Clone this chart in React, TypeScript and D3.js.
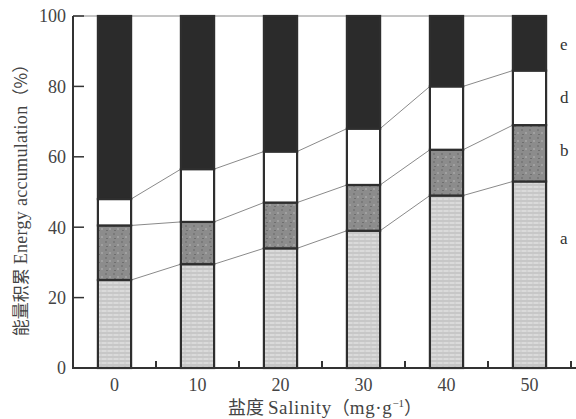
import React from 'react';
import * as d3 from 'd3';

const salinity = ['0', '10', '20', '30', '40', '50'];
// segment shares (%), bottom to top
const partA = [25, 29.5, 34, 39, 49, 53];
const partB = [15.5, 12, 13, 13, 13, 16];
const partD = [7.5, 15, 14.5, 16, 18, 15.5];
const partE = partA.map((v, i) => 100 - v - partB[i] - partD[i]);
const yTicks = [0, 20, 40, 60, 80, 100];
const segNames = ['a', 'b', 'd', 'e'];
const segLabelAt = [37, 62, 77, 92];

const W = 576;
const H = 419;
const serif = "'Liberation Serif', 'DejaVu Serif', serif";
const cjk = "'Noto Sans CJK SC', sans-serif";

export default function App() {
  const x = d3.scaleBand().domain(salinity).range([73, 571]).paddingInner(0.6).paddingOuter(0.3);
  const y = d3.scaleLinear().domain([0, 100]).range([368, 16]);

  const rows = salinity.map((s, i) => ({ s, a: partA[i], b: partB[i], d: partD[i], e: partE[i] }));
  const stacked = d3.stack<any>().keys(['a', 'b', 'd', 'e'])(rows);
  const fills = ['url(#patA)', 'url(#patB)', '#ffffff', '#2b2b2b'];

  const bw = x.bandwidth();
  const step = x.step();
  const minor = salinity.map(s => (x(s) as number) + bw / 2 + step / 2);

  const sf = { fontFamily: serif };
  const cf = { fontFamily: cjk };

  return (
    <div style={{ position: 'absolute', left: 0, top: 0 }}>
      <svg width={W} height={H} style={{ display: 'block', background: '#fff' }}>
        <defs>
          <pattern id="patA" width="6" height="4" patternUnits="userSpaceOnUse">
            <rect width="6" height="4" fill="#d2d2d2" />
            <line x1="0" y1="1" x2="6" y2="1" stroke="#bcbcbc" strokeWidth="1" />
            <line x1="0" y1="3" x2="4" y2="3" stroke="#e2e2e2" strokeWidth="1" />
          </pattern>
          <pattern id="patB" width="8" height="8" patternUnits="userSpaceOnUse">
            <rect width="8" height="8" fill="#8c8c8c" />
            <rect x="1" y="1" width="2" height="2" fill="#7a7a7a" />
            <rect x="5" y="4" width="2" height="2" fill="#a0a0a0" />
            <rect x="2" y="6" width="2" height="1" fill="#6f6f6f" />
          </pattern>
        </defs>

        {/* connector lines between segment tops */}
        {stacked.map((layer, li) =>
          layer.slice(0, -1).map((d, i) => (
            <line key={`c${li}-${i}`}
              x1={(x(salinity[i]) as number) + bw} y1={y(d[1])}
              x2={x(salinity[i + 1]) as number} y2={y(layer[i + 1][1])}
              stroke="#8a8a8a" strokeWidth={1} />
          ))
        )}
        <line x1={73} y1={y(100)} x2={x(salinity[0]) as number} y2={y(100)} stroke="#8a8a8a" strokeWidth={1} />

        {/* stacked bars */}
        {stacked.map((layer, li) =>
          layer.map((d, i) => (
            <rect key={`r${li}-${i}`} x={x(salinity[i])} y={y(d[1])} width={bw}
              height={y(d[0]) - y(d[1])} fill={fills[li]} stroke="#2e2e2e" strokeWidth={2.2} />
          ))
        )}

        {/* segment letters */}
        {segNames.map((n, i) => (
          <text key={n} x={(x(salinity[5]) as number) + bw + 14} y={y(segLabelAt[i])} dy="0.35em"
            style={sf} fontSize={17} fill="#333">{n}</text>
        ))}

        {/* y axis */}
        <line x1={73} y1={y(0)} x2={73} y2={y(100)} stroke="#333" strokeWidth={2} />
        {yTicks.map(t => (
          <g key={t}>
            <line x1={73} x2={84} y1={y(t)} y2={y(t)} stroke="#333" strokeWidth={1.5} />
            <text x={66} y={y(t)} dy="0.35em" textAnchor="end" style={sf} fontSize={18} fill="#444">{t}</text>
          </g>
        ))}

        {/* x axis */}
        <line x1={72} y1={y(0)} x2={W} y2={y(0)} stroke="#333" strokeWidth={2} />
        {minor.map((m, i) => (
          <line key={i} x1={m} x2={m} y1={y(0)} y2={y(0) - 7} stroke="#333" strokeWidth={2} />
        ))}
        {salinity.map(s => (
          <text key={s} x={(x(s) as number) + bw / 2} y={385} dy="0.35em" textAnchor="middle"
            style={sf} fontSize={18} fill="#444">{s}</text>
        ))}

        <text x={325} y={407} dy="0.35em" textAnchor="middle" fontSize={19} fill="#444" style={sf}>
          <tspan style={cf} fontSize={18}>盐度 </tspan>
          <tspan style={sf} letterSpacing={0.6}>Salinity</tspan>
          <tspan style={cf} fontSize={18}>（</tspan>
          <tspan style={sf} letterSpacing={0.6}>mg·g</tspan>
          <tspan style={sf} dy="-7" fontSize={11}>−1</tspan>
          <tspan style={cf} dy="7" fontSize={18}>）</tspan>
        </text>
        <text transform={`translate(21,${y(50) + 4}) rotate(-90)`} dy="0.35em" textAnchor="middle"
          fontSize={18} fill="#444" style={sf}>
          <tspan style={cf} fontSize={17}>能量积累 </tspan>
          <tspan style={sf} letterSpacing={0.3}>Energy accumulation</tspan>
          <tspan style={cf} fontSize={17}>（%）</tspan>
        </text>
      </svg>
    </div>
  );
}
